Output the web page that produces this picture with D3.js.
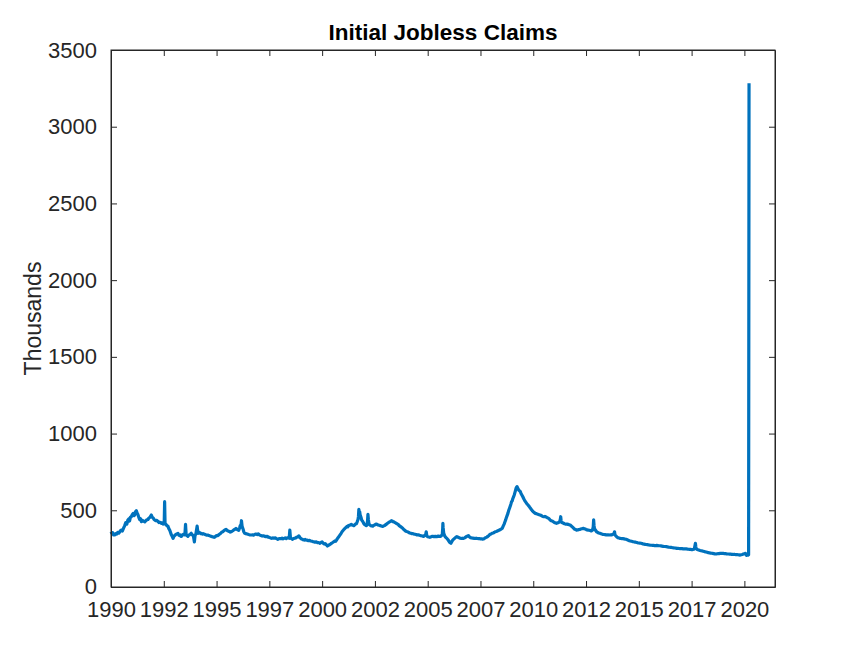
<!DOCTYPE html>
<html>
<head>
<meta charset="utf-8">
<script src="https://cdn.jsdelivr.net/npm/d3@7"></script>
<style>
  html, body { margin: 0; padding: 0; background: #fff; }
  svg { display: block; font-family: "Liberation Sans", Arial, Helvetica, sans-serif; }
</style>
</head>
<body>
<svg id="chart" width="857" height="661"></svg>
<script>
const title = "Initial Jobless Claims";
const yLabel = "Thousands";
const xTickValues = [1990, 1992.5, 1995, 1997.5, 2000, 2002.5, 2005, 2007.5, 2010, 2012.5, 2015, 2017.5, 2020];
const xTickLabels = ["1990","1992","1995","1997","2000","2002","2005","2007","2010","2012","2015","2017","2020"];
const yTickValues = [0, 500, 1000, 1500, 2000, 2500, 3000, 3500];

// [decimal year, initial claims in thousands]
const claimsSeries = [
[1990.00,360],[1990.04,350],[1990.08,354],[1990.12,340],[1990.17,339],[1990.22,348],[1990.27,345],[1990.32,356],[1990.38,352],[1990.44,366],[1990.49,371],[1990.54,365],[1990.60,385],[1990.65,400],[1990.70,420],[1990.75,410],[1990.80,437],[1990.85,445],[1990.88,430],[1990.92,455],[1990.96,458],
[1991.00,470],[1991.05,480],[1991.09,465],[1991.12,470],[1991.16,490],[1991.20,497],[1991.24,480],[1991.28,470],[1991.32,452],[1991.36,440],[1991.40,445],[1991.44,426],[1991.48,435],[1991.52,430],[1991.56,428],[1991.60,425],[1991.65,432],[1991.70,438],[1991.75,440],[1991.80,450],[1991.85,455],[1991.88,462],[1991.91,469],[1991.95,455],
[1992.00,450],[1992.04,440],[1992.07,437],[1992.12,432],[1992.17,435],[1992.22,428],[1992.27,420],[1992.32,422],[1992.38,415],[1992.43,418],[1992.48,410],[1992.52,412],[1992.54,556],[1992.56,415],[1992.60,408],[1992.65,400],[1992.70,395],[1992.74,380],[1992.78,371],[1992.82,355],[1992.86,340],[1992.90,330],[1992.94,317],[1992.98,330],
[1993.05,340],[1993.10,345],[1993.17,350],[1993.21,338],[1993.25,335],[1993.29,340],[1993.33,330],[1993.38,338],[1993.45,345],[1993.50,340],[1993.53,408],[1993.56,340],[1993.60,335],[1993.64,330],[1993.68,338],[1993.72,340],[1993.76,345],[1993.80,350],[1993.85,340],[1993.90,335],[1993.95,294],[1993.98,335],
[1994.02,345],[1994.08,397],[1994.12,350],[1994.16,358],[1994.20,355],[1994.24,348],[1994.27,350],[1994.32,345],[1994.36,348],[1994.40,345],[1994.46,342],[1994.52,338],[1994.58,339],[1994.64,335],[1994.70,332],[1994.75,330],[1994.80,328],[1994.85,325],[1994.90,324],[1994.95,330],
[1995.00,335],[1995.05,335],[1995.10,340],[1995.15,345],[1995.20,350],[1995.25,358],[1995.30,360],[1995.35,368],[1995.40,372],[1995.45,376],[1995.50,368],[1995.55,365],[1995.60,362],[1995.65,358],[1995.69,360],[1995.75,365],[1995.80,370],[1995.86,375],[1995.92,382],[1995.98,375],
[1996.05,370],[1996.09,385],[1996.12,400],[1996.15,390],[1996.18,432],[1996.21,395],[1996.25,380],[1996.29,360],[1996.33,350],[1996.38,348],[1996.45,345],[1996.52,342],[1996.58,340],[1996.65,339],[1996.70,340],[1996.75,338],[1996.80,342],[1996.86,345],[1996.92,342],[1996.97,346],
[1997.03,340],[1997.10,335],[1997.16,332],[1997.22,334],[1997.28,330],[1997.34,328],[1997.40,330],[1997.45,325],[1997.52,322],[1997.60,317],[1997.66,320],[1997.72,318],[1997.78,320],[1997.84,315],[1997.90,311],[1997.96,315],
[1998.05,315],[1998.10,318],[1998.15,314],[1998.20,317],[1998.25,320],[1998.30,316],[1998.35,320],[1998.40,322],[1998.44,318],[1998.47,371],[1998.50,320],[1998.55,315],[1998.60,311],[1998.65,316],[1998.70,318],[1998.75,320],[1998.80,325],[1998.85,328],[1998.90,333],[1998.95,322],
[1999.00,315],[1999.05,312],[1999.10,308],[1999.15,306],[1999.20,310],[1999.25,305],[1999.30,305],[1999.35,302],[1999.40,304],[1999.46,300],[1999.52,298],[1999.56,296],[1999.60,295],[1999.66,292],[1999.72,294],[1999.78,289],[1999.84,290],[1999.90,285],[1999.95,290],
[2000.00,294],[2000.05,285],[2000.10,280],[2000.15,282],[2000.20,275],[2000.25,267],[2000.30,272],[2000.35,275],[2000.40,280],[2000.44,285],[2000.50,290],[2000.55,295],[2000.60,300],[2000.64,298],[2000.68,306],[2000.72,315],[2000.76,322],[2000.80,330],[2000.85,340],[2000.90,350],[2000.95,362],
[2001.00,370],[2001.05,378],[2001.10,385],[2001.14,389],[2001.18,395],[2001.22,392],[2001.25,400],[2001.30,402],[2001.34,405],[2001.38,408],[2001.42,404],[2001.46,402],[2001.50,400],[2001.54,404],[2001.58,410],[2001.62,412],[2001.66,425],[2001.70,440],[2001.72,460],[2001.74,506],[2001.76,480],[2001.78,490],[2001.80,470],[2001.84,455],[2001.87,437],[2001.91,430],[2001.95,420],[2001.98,412],
[2002.00,408],[2002.04,405],[2002.08,400],[2002.12,402],[2002.15,430],[2002.17,474],[2002.19,440],[2002.22,410],[2002.26,405],[2002.30,400],[2002.35,398],[2002.40,397],[2002.45,402],[2002.50,405],[2002.55,410],[2002.60,408],[2002.65,404],[2002.70,402],[2002.75,400],[2002.80,398],[2002.85,395],[2002.90,397],[2002.95,400],
[2003.00,405],[2003.05,410],[2003.10,415],[2003.15,420],[2003.20,425],[2003.24,428],[2003.28,432],[2003.32,430],[2003.36,425],[2003.40,424],[2003.45,420],[2003.50,415],[2003.55,412],[2003.60,408],[2003.65,400],[2003.70,395],[2003.75,390],[2003.80,385],[2003.85,378],[2003.90,371],[2003.95,365],
[2004.00,362],[2004.05,360],[2004.10,356],[2004.15,352],[2004.20,350],[2004.25,348],[2004.30,348],[2004.35,345],[2004.40,344],[2004.45,342],[2004.50,339],[2004.55,340],[2004.60,338],[2004.65,335],[2004.70,334],[2004.75,332],[2004.80,330],[2004.85,335],[2004.90,338],[2004.93,360],[2004.96,332],
[2005.00,328],[2005.05,326],[2005.10,324],[2005.15,326],[2005.20,330],[2005.25,330],[2005.30,328],[2005.36,330],[2005.43,328],[2005.50,332],[2005.55,330],[2005.60,330],[2005.65,335],[2005.69,340],[2005.71,380],[2005.72,415],[2005.73,390],[2005.76,350],[2005.80,335],[2005.83,328],[2005.88,320],[2005.92,315],[2005.95,310],
[2006.00,300],[2006.05,290],[2006.10,285],[2006.14,295],[2006.18,305],[2006.22,310],[2006.26,315],[2006.30,320],[2006.34,325],[2006.38,328],[2006.44,324],[2006.50,320],[2006.55,318],[2006.60,316],[2006.65,318],[2006.70,317],[2006.75,320],[2006.80,325],[2006.85,330],[2006.90,332],[2006.93,335],[2006.97,328],
[2007.02,322],[2007.08,320],[2007.14,318],[2007.20,317],[2007.25,317],[2007.30,318],[2007.35,316],[2007.40,315],[2007.45,315],[2007.50,314],[2007.55,314],[2007.60,312],[2007.65,313],[2007.70,318],[2007.75,322],[2007.80,325],[2007.85,330],[2007.90,336],[2007.95,343],
[2008.00,345],[2008.05,350],[2008.10,352],[2008.15,355],[2008.20,360],[2008.25,362],[2008.30,365],[2008.35,368],[2008.40,372],[2008.45,375],[2008.50,380],[2008.53,382],[2008.57,395],[2008.62,410],[2008.66,425],[2008.69,436],[2008.72,450],[2008.76,465],[2008.80,480],[2008.84,500],[2008.88,515],[2008.90,523],[2008.94,540],[2008.97,555],
[2009.00,560],[2009.03,575],[2009.07,589],[2009.10,600],[2009.13,615],[2009.16,630],[2009.19,645],[2009.21,650],[2009.23,654],[2009.25,648],[2009.28,640],[2009.31,632],[2009.34,628],[2009.39,621],[2009.42,610],[2009.46,600],[2009.50,590],[2009.55,575],[2009.59,565],[2009.63,556],[2009.67,548],[2009.71,540],[2009.75,535],[2009.79,528],[2009.83,520],[2009.87,513],[2009.91,505],[2009.95,498],
[2010.00,490],[2010.05,485],[2010.10,480],[2010.15,478],[2010.20,475],[2010.25,472],[2010.30,470],[2010.34,469],[2010.38,466],[2010.42,462],[2010.45,460],[2010.50,458],[2010.55,460],[2010.58,458],[2010.62,455],[2010.66,452],[2010.70,450],[2010.75,445],[2010.80,437],[2010.85,432],[2010.90,430],[2010.95,425],
[2011.00,420],[2011.05,418],[2011.10,415],[2011.15,418],[2011.20,420],[2011.25,425],[2011.28,440],[2011.30,458],[2011.32,430],[2011.35,420],[2011.40,418],[2011.43,415],[2011.48,412],[2011.54,410],[2011.60,410],[2011.65,408],[2011.70,406],[2011.75,404],[2011.80,398],[2011.85,392],[2011.90,385],[2011.95,378],
[2012.00,375],[2012.05,371],[2012.10,372],[2012.15,374],[2012.20,375],[2012.25,378],[2012.30,380],[2012.37,382],[2012.42,380],[2012.46,378],[2012.50,375],[2012.55,372],[2012.60,371],[2012.65,370],[2012.70,368],[2012.75,365],[2012.80,370],[2012.84,390],[2012.86,437],[2012.88,400],[2012.90,380],[2012.95,370],
[2013.00,360],[2013.05,356],[2013.10,352],[2013.15,350],[2013.20,348],[2013.25,345],[2013.30,343],[2013.35,342],[2013.40,341],[2013.45,340],[2013.50,340],[2013.55,340],[2013.60,339],[2013.65,340],[2013.70,339],[2013.75,342],[2013.80,345],[2013.83,350],[2013.85,360],[2013.87,340],[2013.90,335],[2013.95,328],
[2014.00,322],[2014.05,320],[2014.10,317],[2014.15,316],[2014.20,315],[2014.25,315],[2014.30,314],[2014.35,312],[2014.40,311],[2014.45,308],[2014.50,305],[2014.55,302],[2014.60,300],[2014.65,298],[2014.70,296],[2014.74,295],[2014.80,293],[2014.85,292],[2014.90,290],[2014.95,288],
[2015.00,287],[2015.05,286],[2015.10,285],[2015.15,283],[2015.20,280],[2015.25,279],[2015.30,278],[2015.35,277],[2015.40,276],[2015.45,275],[2015.50,274],[2015.53,273],[2015.60,272],[2015.65,271],[2015.70,271],[2015.75,270],[2015.80,270],[2015.85,271],[2015.90,270],[2015.95,269],
[2016.00,269],[2016.05,268],[2016.10,266],[2016.15,265],[2016.20,264],[2016.25,264],[2016.30,263],[2016.35,262],[2016.40,260],[2016.45,259],[2016.50,258],[2016.55,258],[2016.60,256],[2016.65,255],[2016.70,254],[2016.75,253],[2016.80,252],[2016.85,252],[2016.90,251],[2016.95,250],
[2017.00,250],[2017.05,250],[2017.10,249],[2017.15,249],[2017.20,248],[2017.25,248],[2017.30,247],[2017.35,246],[2017.40,245],[2017.45,245],[2017.50,244],[2017.55,244],[2017.60,246],[2017.63,250],[2017.66,270],[2017.68,285],[2017.70,262],[2017.72,250],[2017.75,246],[2017.80,243],[2017.84,241],[2017.90,238],[2017.95,236],
[2018.00,235],[2018.05,233],[2018.10,231],[2018.15,229],[2018.20,228],[2018.24,226],[2018.30,224],[2018.35,222],[2018.40,221],[2018.45,220],[2018.50,219],[2018.55,217],[2018.60,216],[2018.63,215],[2018.68,216],[2018.72,217],[2018.76,218],[2018.80,218],[2018.85,219],[2018.90,219],[2018.95,219],
[2019.00,219],[2019.05,218],[2019.10,217],[2019.15,216],[2019.20,215],[2019.25,215],[2019.30,214],[2019.35,214],[2019.40,213],[2019.45,213],[2019.50,212],[2019.55,212],[2019.60,211],[2019.65,211],[2019.70,210],[2019.75,209],[2019.80,208],[2019.85,210],[2019.90,212],[2019.95,215],
[2020.00,217],[2020.05,219],[2020.08,212],[2020.10,206],[2020.14,210],[2020.17,208],[2020.20,211],[2020.22,3283]
];

const m = { left: 111, right: 775, top: 50, bottom: 587 };
const svg = d3.select("#chart");
const ink = "#262626";
const font = "Liberation Sans, Arial, Helvetica, sans-serif";

const x = d3.scaleLinear().domain([1990, 2021.45]).range([m.left, m.right]);
const y = d3.scaleLinear().domain([0, 3500]).range([m.bottom, m.top]);

// Line
const line = d3.line().x(d => x(d[0])).y(d => y(d[1]));
svg.append("path")
  .datum(claimsSeries)
  .attr("d", line)
  .attr("fill", "none")
  .attr("stroke", "#0072BD")
  .attr("stroke-width", 3.2)
  .attr("stroke-linejoin", "round");

// Axes (MATLAB style: inward ticks, box on)
const tickLen = 6;
const fontSize = 22;

const xAxisB = d3.axisBottom(x).tickValues(xTickValues)
  .tickFormat((d, i) => xTickLabels[i]).tickSizeInner(-tickLen).tickSizeOuter(0).tickPadding(14);
const gxb = svg.append("g").attr("transform", `translate(0,${m.bottom})`).call(xAxisB);
gxb.selectAll("text").attr("font-size", fontSize).attr("fill", ink).attr("font-family", font);

const xAxisT = d3.axisTop(x).tickValues(xTickValues).tickFormat("").tickSizeInner(-tickLen).tickSizeOuter(0);
svg.append("g").attr("transform", `translate(0,${m.top})`).call(xAxisT);

const yAxisL = d3.axisLeft(y).tickValues(yTickValues).tickFormat(d3.format("d"))
  .tickSizeInner(-tickLen).tickSizeOuter(0).tickPadding(14);
const gyl = svg.append("g").attr("transform", `translate(${m.left},0)`).call(yAxisL);
gyl.selectAll("text").attr("font-size", fontSize).attr("fill", ink).attr("font-family", font);
// nudge the "0" label up slightly so it clears the first year label
gyl.selectAll(".tick").filter(d => d === 0).select("text").attr("dy", "0.28em");

const yAxisR = d3.axisRight(y).tickValues(yTickValues).tickFormat("").tickSizeInner(-tickLen).tickSizeOuter(0);
svg.append("g").attr("transform", `translate(${m.right},0)`).call(yAxisR);

svg.selectAll(".domain").attr("stroke", ink);
svg.selectAll(".tick line").attr("stroke", ink);

// Box
svg.append("rect")
  .attr("x", m.left).attr("y", m.top)
  .attr("width", m.right - m.left).attr("height", m.bottom - m.top)
  .attr("fill", "none").attr("stroke", ink).attr("stroke-width", 1);

// Title
svg.append("text")
  .attr("x", (m.left + m.right) / 2).attr("y", 40)
  .attr("text-anchor", "middle").attr("font-family", font)
  .attr("font-size", 22.5).attr("font-weight", "bold").attr("fill", "#000")
  .text(title);

// Y label
svg.append("text")
  .attr("transform", `translate(41,${(m.top + m.bottom) / 2}) rotate(-90)`)
  .attr("text-anchor", "middle").attr("font-family", font)
  .attr("font-size", 23).attr("fill", ink)
  .text(yLabel);
</script>
</body>
</html>
